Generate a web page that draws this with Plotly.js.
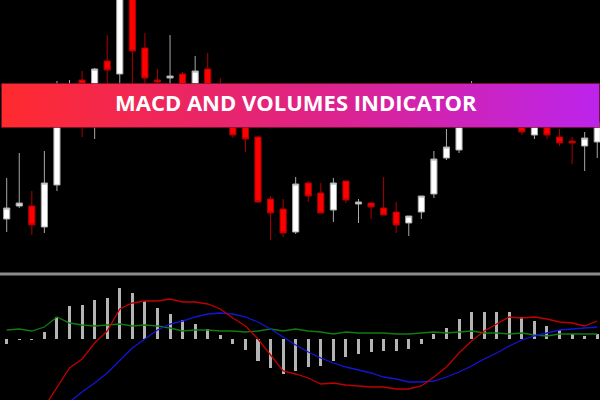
<!DOCTYPE html>
<html>
<head>
<meta charset="utf-8">
<script src="https://cdn.plot.ly/plotly-3.0.1.min.js"></script>
<style>html,body{margin:0;padding:0;background:#000;}#chart{width:600px;height:400px;}</style>
</head>
<body>
<div id="chart"></div>
<script>
// Candle data (arbitrary price units)
const candleIndex = Array.from({length: 48}, (_, i) => i);
const openValues  = [81, 94, 94, 73, 115, 182, 220, 200, 239, 226, 305, 252, 220, 222, 226, 200, 231, 205, 180, 178, 163, 101, 91, 68, 117, 107, 90, 119, 96, 97, 92, 88, 77, 88, 106, 142, 150, 185, 200, 195, 205, 175, 165, 176, 163, 159, 154, 158];
const highValues  = [122, 147, 109, 149, 219, 220, 229, 232, 265, 310, 310, 267, 231, 265, 228, 244, 247, 222, 190, 185, 164, 104, 101, 123, 119, 117, 122, 119, 101, 98, 123, 98, 84, 104, 149, 171, 190, 219, 205, 210, 212, 180, 180, 182, 171, 163, 168, 182];
const lowValues   = [68, 92, 65, 67, 109, 176, 163, 161, 200, 215, 210, 205, 200, 205, 195, 190, 190, 180, 162, 148, 97, 60, 63, 66, 98, 87, 78, 97, 77, 81, 85, 67, 64, 81, 102, 140, 147, 178, 180, 185, 182, 165, 161, 161, 154, 136, 129, 142];
const closeValues = [92, 97, 75, 117, 182, 188, 216, 231, 230, 305, 249, 222, 218, 224, 205, 229, 200, 190, 165, 161, 98, 87, 67, 116, 104, 87, 117, 100, 98, 93, 85, 75, 84, 104, 141, 153, 185, 200, 195, 205, 195, 168, 176, 165, 157, 157, 162, 178];

// Indicator panel
const histValues  = [-5, -1.3, -1, 7.3, 22.3, 33, 34, 39, 41.3, 50.7, 46.3, 38.3, 30.7, 25, 19, 15, 9.7, 4, -5.3, -11, -22, -29.3, -35.3, -31.7, -28, -27, -21.7, -18.3, -15, -13.3, -12, -12, -9.7, -5, 5, 11.3, 20, 26.7, 27.3, 26.7, 27.3, 22.3, 18, 13, 9, 5, 3, 5];
const redLine     = [-121, -106, -91, -68, -49, -29, -20, -4, 8, 30, 36, 38, 38, 40, 37, 37, 35, 30, 21, 13, 0, -16, -32, -35, -39, -45, -44, -46, -47, -48, -48, -50, -50, -47, -38, -28, -14, -2, 8, 15, 22, 21, 22, 20, 17, 16, 13, 18];
const blueLine    = [-101, -93, -85, -78, -71, -63, -53, -44, -34, -21, -9, 0, 9, 15, 18, 22, 25, 26, 25, 22, 17, 10, 2, -6, -13, -19, -24, -28, -31, -34, -38, -40, -43, -43, -42, -38, -33, -27, -20, -14, -7, -1, 3, 6, 9, 10, 11, 12];
const greenLine   = [9, 10, 8, 12, 22, 16, 14, 13, 14, 15, 13, 14, 13, 11, 8, 9, 9, 8, 8, 7, 8, 10, 8, 10, 8, 7, 5, 7, 6, 6, 6, 5, 5, 6, 7, 6, 7, 8, 6, 6, 5, 6, 4, 3, 5, 5, 5, 5];

const bannerText = "MACD AND VOLUMES INDICATOR";

const traces = [
  {
    type: "candlestick",
    x: candleIndex, open: openValues, high: highValues, low: lowValues, close: closeValues,
    xaxis: "x", yaxis: "y",
    increasing: {line: {color: "#a8a8a8", width: 1}, fillcolor: "#ffffff"},
    decreasing: {line: {color: "#b00000", width: 1}, fillcolor: "#ff0000"},
    whiskerwidth: 0,
    hoverinfo: "skip"
  },
  {
    type: "bar", x: candleIndex, y: histValues, xaxis: "x", yaxis: "y2",
    width: 0.24, marker: {color: "#b4b4b4", line: {width: 0}}, hoverinfo: "skip"
  },
  {
    type: "scatter", mode: "lines", x: candleIndex, y: greenLine, xaxis: "x", yaxis: "y2",
    line: {color: "#127a12", width: 1.3}, hoverinfo: "skip"
  },
  {
    type: "scatter", mode: "lines", x: candleIndex, y: blueLine, xaxis: "x", yaxis: "y2",
    line: {color: "#1414d8", width: 1.3}, hoverinfo: "skip"
  },
  {
    type: "scatter", mode: "lines", x: candleIndex, y: redLine, xaxis: "x", yaxis: "y2",
    line: {color: "#c00000", width: 1.3}, hoverinfo: "skip"
  }
];

const bannerSvg = "<svg xmlns='http://www.w3.org/2000/svg' width='599' height='45' viewBox='0 0 599 45' preserveAspectRatio='none'>" +
  "<defs><linearGradient id='g' x1='0' x2='1' y1='0' y2='0'>" +
  "<stop offset='0' stop-color='#ff2a2e'/><stop offset='0.5' stop-color='#e02382'/><stop offset='1' stop-color='#bc24ec'/>" +
  "</linearGradient></defs>" +
  "<rect x='0.5' y='0.5' width='598' height='44' fill='url(#g)' stroke='#7a0f2a' stroke-opacity='0.7' stroke-width='1'/></svg>";

const axisBase = {showgrid: false, zeroline: false, showticklabels: false, showline: false, ticks: "", fixedrange: true};

const layout = {
  width: 600, height: 400,
  margin: {l: 0, r: 0, t: 0, b: 0, pad: 0},
  paper_bgcolor: "#000000", plot_bgcolor: "#000000",
  showlegend: false,
  bargap: 0,
  xaxis: Object.assign({}, axisBase, {range: [-0.533, 47.22], rangeslider: {visible: false}}),
  yaxis: Object.assign({}, axisBase, {domain: [0.32, 1], range: [28, 300]}),
  yaxis2: Object.assign({}, axisBase, {domain: [0, 0.31], range: [-61, 63]}),
  shapes: [
    {type: "line", xref: "paper", yref: "paper", x0: 0, x1: 1, y0: 0.315, y1: 0.315,
     line: {color: "#8c8c8c", width: 3}}
  ],
  images: [
    {source: "data:image/svg+xml;charset=utf-8," + encodeURIComponent(bannerSvg),
     xref: "paper", yref: "paper", x: 1/600, y: 1 - 83/400, sizex: 599/600, sizey: 45/400,
     xanchor: "left", yanchor: "top", sizing: "stretch", layer: "above"}
  ],
  annotations: [
    {text: bannerText, xref: "paper", yref: "paper", x: 295.5/600, y: 1 - 102/400,
     xanchor: "center", yanchor: "middle", showarrow: false,
     font: {family: "Open Sans", size: 22, color: "#ffffff", weight: 700}}
  ]
};

Plotly.newPlot("chart", traces, layout, {staticPlot: true, displayModeBar: false});
</script>
</body>
</html>
